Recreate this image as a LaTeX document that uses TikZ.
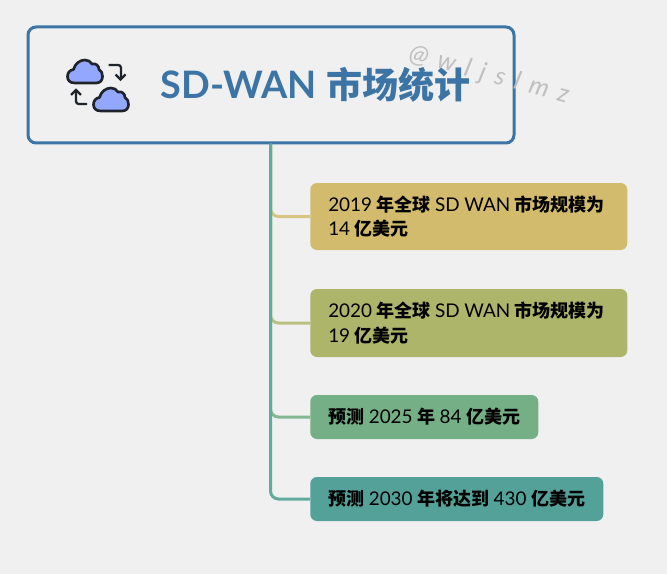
\documentclass[tikz,border=0pt]{standalone}
\usepackage{fontspec}
\setmainfont[Scale=1.05]{Lato}
\newfontfamily\cjk{Noto Sans CJK SC}
\newcommand{\zh}[1]{{\cjk\bfseries #1}}
\definecolor{pagegray}{HTML}{F0F0F0}
\definecolor{rootblue}{HTML}{3D74A6}
\definecolor{trunkgreen}{HTML}{62AB9C}
\definecolor{goldfill}{HTML}{D2BB6C}
\definecolor{olivefill}{HTML}{ADB56B}
\definecolor{greenfill}{HTML}{74AF86}
\definecolor{tealfill}{HTML}{53A198}
\definecolor{cloudblue}{HTML}{93A7FF}
\definecolor{icondark}{HTML}{1F242B}
\tikzset{
	rootbox/.style = {draw=rootblue, line width=2.25pt, rounded corners=6pt, minimum width=486*0.75pt, minimum height=116*0.75pt, inner sep=0pt},
	leaf/.style 2 args = {fill=#1, rounded corners=5pt, anchor=west, inner xsep=18*0.75pt, inner ysep=0pt, text width=#2*0.75pt, align=left, font=\fontsize{13.5pt}{18.6pt}\selectfont, execute at begin node={\spaceskip=3.4pt\relax}},
	branch/.style = {line width=2.25pt, rounded corners=6pt},
	cloudicon/.style = {draw=icondark, fill=cloudblue, line width=2pt, line join=round},
	arrowicon/.style = {draw=icondark, line width=1.7pt, rounded corners=2pt}
}
\begin{document}
\begin{tikzpicture}[x=0.75pt, y=-0.75pt]
	\path[use as bounding box, fill=pagegray] (0,0) rectangle (667,574);

	\def \trunkx {270.5}
	\def \cloud {(8,23.5) .. controls (3,23.5) and (0.5,21) .. (0.5,17) .. controls (0.5,13) and (3,10.5) .. (6.5,10) .. controls (8,4) and (13,0.5) .. (18,0.5) .. controls (21,0.5) and (23.5,2) .. (25,4.5) .. controls (28.5,3.5) and (32,6) .. (32,10) .. controls (34.5,11) and (35.5,14) .. (35.5,17) .. controls (35.5,21) and (33,23.5) .. (29,23.5) -- cycle}

	\node[rootbox] (root) at (271,85) {};
	\node[anchor=west, inner sep=0pt, text=rootblue, font=\fontsize{27pt}{27pt}\selectfont\bfseries] (title) at (160.5,85) {SD-WAN \zh{市场统计}};
	\node[anchor=center, rotate=-15, text=black!25, font=\fontsize{18pt}{18pt}\selectfont\itshape\addfontfeature{LetterSpace=16}] (mark) at (489,75) {@ w l j s l m z};

	\node[leaf={goldfill}{281}, minimum height=67*0.75pt] (n2019) at (310,216.5) {\mbox{2019 \zh{年全球} SD WAN \zh{市场规模为}}\\14 \zh{亿美元}};
	\node[leaf={olivefill}{281}, minimum height=68*0.75pt] (n2020) at (310,323) {\mbox{2020 \zh{年全球} SD WAN \zh{市场规模为}}\\19 \zh{亿美元}};
	\node[leaf={greenfill}{192}, minimum height=44*0.75pt] (n2025) at (310,417) {\mbox{\zh{预测} 2025 \zh{年} 84 \zh{亿美元}}};
	\node[leaf={tealfill}{257}, minimum height=44*0.75pt] (n2030) at (310,499) {\mbox{\zh{预测} 2030 \zh{年将达到} 430 \zh{亿美元}}};

	\coordinate (trunktop) at (\trunkx,144);

	\draw[branch, draw=goldfill!85!white] (trunktop) |- (n2019.west);
	\draw[branch, draw=olivefill!85!white] (trunktop) |- (n2020.west);
	\draw[branch, draw=greenfill!90!white] (trunktop) |- (n2025.west);
	\draw[branch, draw=trunkgreen] (trunktop) |- (n2030.west);

	% icon
	\begin{scope}[shift={(67,59.5)}]
		\draw[cloudicon] \cloud;
	\end{scope}
	\begin{scope}[shift={(93,87.5)}]
		\draw[cloudicon] \cloud;
	\end{scope}
	\draw[arrowicon] (108.5,65) -- (121,65) -- (121,79);
	\draw[arrowicon, rounded corners=0pt] (115.5,74.5) -- (120.5,79.5) -- (125.5,74.5);
	\draw[arrowicon] (87,104) -- (76,104) -- (76,90);
	\draw[arrowicon, rounded corners=0pt] (71,95) -- (76,90) -- (81,95);
\end{tikzpicture}
\end{document}
